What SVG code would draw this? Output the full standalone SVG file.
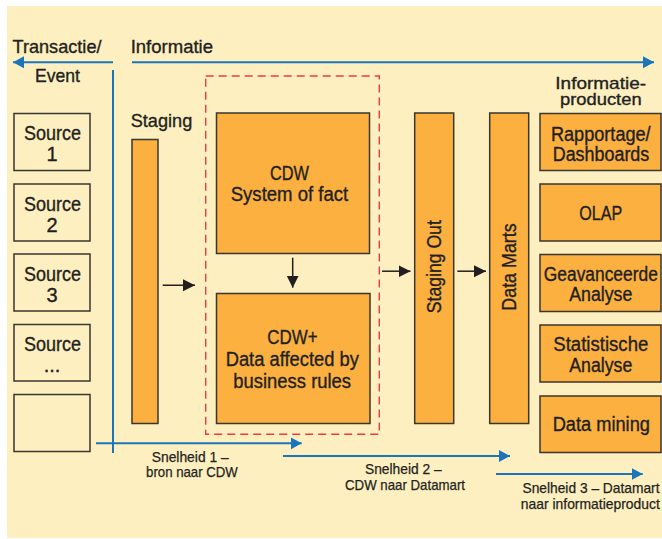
<svg xmlns="http://www.w3.org/2000/svg" width="662" height="539" viewBox="0 0 662 539">
<defs>
<style>
.t{font-family:"Liberation Sans",Arial,sans-serif;fill:#231f20;stroke:#231f20;stroke-width:0.35;text-anchor:middle}
.h{font-size:19px}
.p{font-size:17px}
.b{font-size:20px}
.s{font-size:15px;stroke-width:0.25}
.box{fill:#fbb040;stroke:#3a3631;stroke-width:1.5}
.src{fill:#fdefc0;stroke:#3a3631;stroke-width:1.5}
.blue{stroke:#1a75bb;stroke-width:2;fill:none}
.blk{stroke:#231f20;stroke-width:1.5;fill:none}
</style>
<marker id="ab" markerUnits="userSpaceOnUse" markerWidth="12" markerHeight="13" refX="11" refY="6" orient="auto"><path d="M0,0 L11,6 L0,12 z" fill="#1a75bb"/></marker>
<marker id="ak" markerUnits="userSpaceOnUse" markerWidth="13" markerHeight="13" refX="12" refY="6" orient="auto"><path d="M0,0 L12,6 L0,12 z" fill="#231f20"/></marker>
</defs>
<rect x="0" y="0" width="662" height="539" fill="#ffffff"/>
<rect x="7" y="6" width="655" height="532" fill="#fdefc0"/>

<g id="headers">
<text class="t h" x="57" y="53" textLength="89" lengthAdjust="spacingAndGlyphs">Transactie/</text>
<text class="t h" x="57.5" y="82" textLength="45" lengthAdjust="spacingAndGlyphs">Event</text>
<text class="t h" x="130.7" y="53" style="text-anchor:start" textLength="82.3" lengthAdjust="spacingAndGlyphs">Informatie</text>
<text class="t h" x="130.7" y="127" style="text-anchor:start" textLength="61.6" lengthAdjust="spacingAndGlyphs">Staging</text>
<text class="t p" x="600.7" y="89.3" textLength="90.7" lengthAdjust="spacingAndGlyphs">Informatie-</text>
<text class="t p" x="600.8" y="105.3" textLength="81.7" lengthAdjust="spacingAndGlyphs">producten</text>
</g>

<g id="source1"><rect class="src" x="14" y="113.5" width="76" height="57"/><text class="t b" x="52.5" y="140" textLength="57" lengthAdjust="spacingAndGlyphs">Source</text><text class="t b" x="52" y="161">1</text></g>
<g id="source2"><rect class="src" x="14" y="184" width="76" height="57"/><text class="t b" x="52.5" y="210.5" textLength="57" lengthAdjust="spacingAndGlyphs">Source</text><text class="t b" x="52" y="231.5">2</text></g>
<g id="source3"><rect class="src" x="14" y="254" width="76" height="57"/><text class="t b" x="52.5" y="280.5" textLength="57" lengthAdjust="spacingAndGlyphs">Source</text><text class="t b" x="52" y="301.5">3</text></g>
<g id="source4"><rect class="src" x="14" y="324.5" width="76" height="56.5"/><text class="t b" x="52.5" y="351" textLength="57" lengthAdjust="spacingAndGlyphs">Source</text><text class="t b" x="52" y="372">...</text></g>
<g id="source5"><rect class="src" x="14" y="394.5" width="76" height="57"/></g>

<g id="staging"><rect class="box" x="132" y="139.5" width="26" height="284"/></g>

<g id="cdw-group"><rect x="205.7" y="76" width="173.6" height="358.3" fill="none" stroke="#ee3b43" stroke-width="1.4" stroke-dasharray="8,5"/></g>

<g id="cdw"><rect class="box" x="216.5" y="113" width="153" height="140.5"/><text class="t b" x="289.5" y="179.5" textLength="39" lengthAdjust="spacingAndGlyphs">CDW</text><text class="t b" x="289.5" y="200.5" textLength="117.6" lengthAdjust="spacingAndGlyphs">System of fact</text></g>
<g id="cdwplus"><rect class="box" x="216.5" y="293.5" width="153.5" height="130"/><text class="t b" x="292.5" y="344" textLength="50.3" lengthAdjust="spacingAndGlyphs">CDW+</text><text class="t b" x="292.3" y="366" textLength="133.3" lengthAdjust="spacingAndGlyphs">Data affected by</text><text class="t b" x="292.2" y="387.5" textLength="117.7" lengthAdjust="spacingAndGlyphs">business rules</text></g>

<g id="stagingout"><rect class="box" x="414.7" y="113" width="39" height="310.5"/><text class="t b" transform="translate(440.5,266.7) rotate(-90)" x="0" y="0" textLength="93" lengthAdjust="spacingAndGlyphs">Staging Out</text></g>
<g id="datamarts"><rect class="box" x="489.7" y="113" width="39" height="310.5"/><text class="t b" transform="translate(515.5,267) rotate(-90)" x="0" y="0" textLength="87.4" lengthAdjust="spacingAndGlyphs">Data Marts</text></g>

<g id="rapportage"><rect class="box" x="540" y="113.5" width="121" height="57"/><text class="t b" x="600.8" y="140.5" textLength="99.7" lengthAdjust="spacingAndGlyphs">Rapportage/</text><text class="t b" x="601" y="160.5" textLength="96.6" lengthAdjust="spacingAndGlyphs">Dashboards</text></g>
<g id="olap"><rect class="box" x="540" y="184" width="121" height="57"/><text class="t b" x="600.8" y="219.5" textLength="43" lengthAdjust="spacingAndGlyphs">OLAP</text></g>
<g id="geavanceerde"><rect class="box" x="540" y="254.5" width="121" height="57"/><text class="t b" x="600.8" y="280.5" textLength="114" lengthAdjust="spacingAndGlyphs">Geavanceerde</text><text class="t b" x="600.8" y="300.5" textLength="63" lengthAdjust="spacingAndGlyphs">Analyse</text></g>
<g id="statistische"><rect class="box" x="540" y="325" width="121" height="57"/><text class="t b" x="600.8" y="351" textLength="95" lengthAdjust="spacingAndGlyphs">Statistische</text><text class="t b" x="600.8" y="371.5" textLength="63" lengthAdjust="spacingAndGlyphs">Analyse</text></g>
<g id="datamining"><rect class="box" x="540" y="396" width="121" height="56.5"/><text class="t b" x="601.3" y="430.5" textLength="97.3" lengthAdjust="spacingAndGlyphs">Data mining</text></g>

<g id="connectors">
<line class="blue" x1="113" y1="62.3" x2="13" y2="62.3" marker-end="url(#ab)"/>
<line class="blue" x1="132" y1="62.3" x2="654" y2="62.3" marker-end="url(#ab)"/>
<line class="blue" x1="113" y1="70" x2="113" y2="453"/>
<line class="blue" x1="96" y1="443.3" x2="301.7" y2="443.3" marker-end="url(#ab)"/>
<line class="blue" x1="283" y1="456" x2="510" y2="456" marker-end="url(#ab)"/>
<line class="blue" x1="496" y1="474" x2="642.7" y2="474" marker-end="url(#ab)"/>
<line class="blk" x1="162.7" y1="285.3" x2="195" y2="285.3" marker-end="url(#ak)"/>
<line class="blk" x1="292.7" y1="257.7" x2="292.7" y2="287.7" marker-end="url(#ak)"/>
<line class="blk" x1="382" y1="271.2" x2="410.5" y2="271.2" marker-end="url(#ak)"/>
<line class="blk" x1="457.3" y1="271.2" x2="486" y2="271.2" marker-end="url(#ak)"/>
</g>

<g id="labels">
<text class="t s" x="190.2" y="461.7" textLength="77" lengthAdjust="spacingAndGlyphs">Snelheid 1 –</text>
<text class="t s" x="191.9" y="477.3" textLength="91.7" lengthAdjust="spacingAndGlyphs">bron naar CDW</text>
<text class="t s" x="403.3" y="474.3" textLength="76.7" lengthAdjust="spacingAndGlyphs">Snelheid 2 –</text>
<text class="t s" x="405" y="490" textLength="120" lengthAdjust="spacingAndGlyphs">CDW naar Datamart</text>
<text class="t s" x="591" y="493.3" textLength="137" lengthAdjust="spacingAndGlyphs">Snelheid 3 – Datamart</text>
<text class="t s" x="590.3" y="509.3" textLength="139" lengthAdjust="spacingAndGlyphs">naar informatieproduct</text>
</g>
</svg>
